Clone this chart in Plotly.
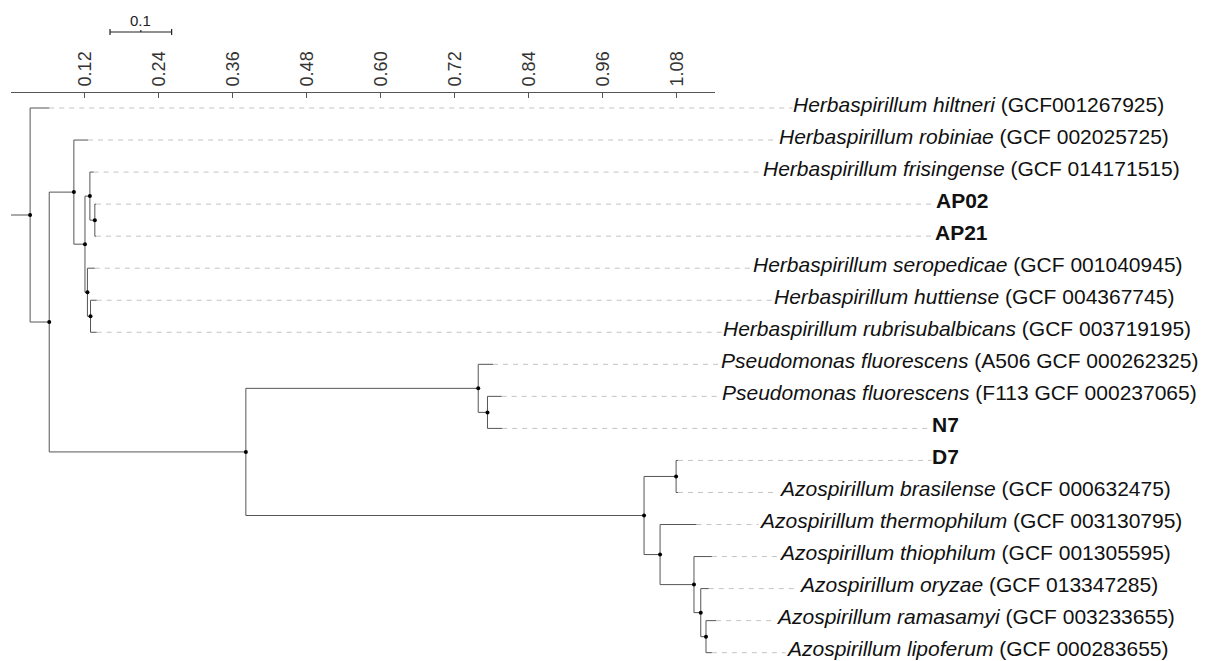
import plotly.graph_objects as go

# ---------------- data ----------------
leaf_keys = ["hiltneri", "robiniae", "frisingense", "AP02", "AP21", "seropedicae",
             "huttiense", "rubrisub", "A506", "F113", "N7", "D7", "brasilense",
             "thermophilum", "thiophilum", "oryzae", "ramasamyi", "lipoferum"]
leaf_species = ["Herbaspirillum hiltneri", "Herbaspirillum robiniae", "Herbaspirillum frisingense",
                "", "", "Herbaspirillum seropedicae", "Herbaspirillum huttiense",
                "Herbaspirillum rubrisubalbicans", "Pseudomonas fluorescens", "Pseudomonas fluorescens",
                "", "", "Azospirillum brasilense", "Azospirillum thermophilum",
                "Azospirillum thiophilum", "Azospirillum oryzae", "Azospirillum ramasamyi",
                "Azospirillum lipoferum"]
leaf_strain = ["(GCF001267925)", "(GCF 002025725)", "(GCF 014171515)", "AP02", "AP21",
               "(GCF 001040945)", "(GCF 004367745)", "(GCF 003719195)", "(A506 GCF 000262325)",
               "(F113 GCF 000237065)", "N7", "D7", "(GCF 000632475)", "(GCF 003130795)",
               "(GCF 001305595)", "(GCF 013347285)", "(GCF 003233655)", "(GCF 000283655)"]

node_names = ["root", "hiltneri", "A", "B", "robiniae", "C", "D", "frisingense", "E", "AP02", "AP21",
              "F", "seropedicae", "G", "huttiense", "rubrisub", "H", "I", "A506", "J", "F113", "N7",
              "K", "L", "D7", "brasilense", "M", "thermophilum", "N", "thiophilum", "O", "oryzae",
              "P", "ramasamyi", "lipoferum"]
node_parent = [None, "root", "root", "A", "B", "B", "C", "D", "D", "E", "E",
               "C", "F", "F", "G", "G", "A", "H", "I", "I", "J", "J",
               "H", "K", "L", "L", "K", "M", "M", "N", "N", "O",
               "O", "P", "P"]
node_depth = [0.031, 0.062, 0.062, 0.102, 0.125, 0.120, 0.128, 0.134, 0.136, 0.138, 0.138,
              0.124, 0.136, 0.129, 0.139, 0.139, 0.381, 0.758, 0.782, 0.773, 0.796, 0.797,
              1.027, 1.079, 1.082, 1.082, 1.053, 1.112, 1.108, 1.137, 1.119, 1.132,
              1.1275, 1.144, 1.137]

tick_values = [0.12, 0.24, 0.36, 0.48, 0.60, 0.72, 0.84, 0.96, 1.08]
tick_labels = ["0.12", "0.24", "0.36", "0.48", "0.60", "0.72", "0.84", "0.96", "1.08"]
scale_bar_length = 0.1
scale_bar_label = "0.1"

# ---------------- layout constants ----------------
W, H = 1208, 661
X0_PX, PPU = 11.0, 616.4          # pixel of x=0, pixels per unit
ROW0_PX, ROW_PX = 108.0, 32.04    # pixel of first leaf, pixels per row
AXIS_PX = 92.0
AXIS_END = 1.1421
label_center_px = [978, 974, 971.5, 962, 961, 968, 974, 956.7, 959, 959, 945, 945,
                   975, 970, 975, 978.6, 975, 977.5]
LABEL_SHIFT = 4
FONT = "Liberation Sans, Arial, sans-serif"

def px_to_x(px):
    return (px - X0_PX) / PPU

def py_to_y(py):
    return (py - ROW0_PX) / ROW_PX

# ---------------- tree geometry ----------------
depth = dict(zip(node_names, node_depth))
children = {n: [] for n in node_names}
for n, p in zip(node_names, node_parent):
    if p is not None:
        children[p].append(n)

ypos = {}
def get_y(n):
    if n in ypos:
        return ypos[n]
    if n in leaf_keys:
        ypos[n] = leaf_keys.index(n)
    else:
        ys = [get_y(c) for c in children[n]]
        ypos[n] = sum(ys) / len(ys)
    return ypos[n]
for n in node_names:
    get_y(n)

bx, by = [], []
bx += [0, depth["root"], None]
by += [ypos["root"], ypos["root"], None]
for n in node_names:
    ch = children[n]
    if ch:
        ys = [ypos[c] for c in ch]
        bx += [depth[n], depth[n], None]
        by += [min(ys), max(ys), None]
        for c in ch:
            bx += [depth[n], depth[c], None]
            by += [ypos[c], ypos[c], None]

dx, dy = [], []
for i, k in enumerate(leaf_keys):
    dx += [depth[k], px_to_x(label_center_px[i]), None]
    dy += [ypos[k], ypos[k], None]

inner = [n for n in node_names if children[n]]

fig = go.Figure()
fig.add_trace(go.Scatter(x=dx, y=dy, mode="lines",
                         line=dict(color="#c4c4c4", width=1, dash="5px,5px"),
                         hoverinfo="skip", showlegend=False))
fig.add_trace(go.Scatter(x=bx, y=by, mode="lines",
                         line=dict(color="#555555", width=1),
                         hoverinfo="skip", showlegend=False))
fig.add_trace(go.Scatter(x=[depth[n] for n in inner], y=[ypos[n] for n in inner],
                         mode="markers", marker=dict(color="black", size=4),
                         hoverinfo="skip", showlegend=False))

# scale bar
sb_x0 = px_to_x(110)
sb_y = py_to_y(32)
tk = 3 / ROW_PX
fig.add_trace(go.Scatter(
    x=[sb_x0, sb_x0 + scale_bar_length, None, sb_x0, sb_x0, None,
       sb_x0 + scale_bar_length, sb_x0 + scale_bar_length, None,
       sb_x0 + scale_bar_length / 2, sb_x0 + scale_bar_length / 2],
    y=[sb_y, sb_y, None, sb_y - tk, sb_y + tk, None, sb_y - tk, sb_y + tk, None,
       sb_y, sb_y - 2 / ROW_PX],
    mode="lines", line=dict(color="#222", width=1.2),
    hoverinfo="skip", showlegend=False))

# invisible trace to activate top axis
fig.add_trace(go.Scatter(x=[0, AXIS_END], y=[-3, -3], xaxis="x2", yaxis="y",
                         mode="markers", marker=dict(opacity=0),
                         hoverinfo="skip", showlegend=False))

annotations = []
for i, k in enumerate(leaf_keys):
    if leaf_species[i]:
        txt = f"<i>{leaf_species[i]}</i> {leaf_strain[i]}"
    else:
        txt = f"<b>{leaf_strain[i]}</b>"
    annotations.append(dict(x=px_to_x(label_center_px[i]), y=ypos[k], xref="x", yref="y",
                            text=txt, showarrow=False, xanchor="center", yanchor="middle",
                            yshift=LABEL_SHIFT, bgcolor="white", borderpad=0,
                            font=dict(family=FONT, size=21, color="#111")))
annotations.append(dict(x=sb_x0 + scale_bar_length / 2, y=py_to_y(20), xref="x", yref="y",
                        text=scale_bar_label, showarrow=False, xanchor="center", yanchor="middle",
                        font=dict(family=FONT, size=15, color="#222")))

fig.update_layout(
    width=W, height=H,
    margin=dict(l=0, r=0, t=0, b=0),
    plot_bgcolor="rgba(0,0,0,0)", paper_bgcolor="white",
    xaxis=dict(domain=[0, 1], range=[px_to_x(0), px_to_x(W)], visible=False, fixedrange=True),
    yaxis=dict(domain=[0, 1], range=[py_to_y(H), py_to_y(0)], visible=False, fixedrange=True),
    xaxis2=dict(domain=[X0_PX / W, (X0_PX + AXIS_END * PPU) / W], range=[0, AXIS_END],
                anchor="free", position=(H - AXIS_PX) / H, side="top",
                showline=True, linecolor="#555", linewidth=1,
                ticks="inside", ticklen=5, tickcolor="#555",
                tickvals=tick_values, ticktext=tick_labels, tickangle=-90,
                ticklabelstandoff=2,
                tickfont=dict(family=FONT, size=18, color="#333"),
                showgrid=False, zeroline=False, fixedrange=True),
    annotations=annotations,
    showlegend=False,
)

fig.write_html("out.html", config={"displayModeBar": False},
               post_script="document.body.style.margin='0';")
